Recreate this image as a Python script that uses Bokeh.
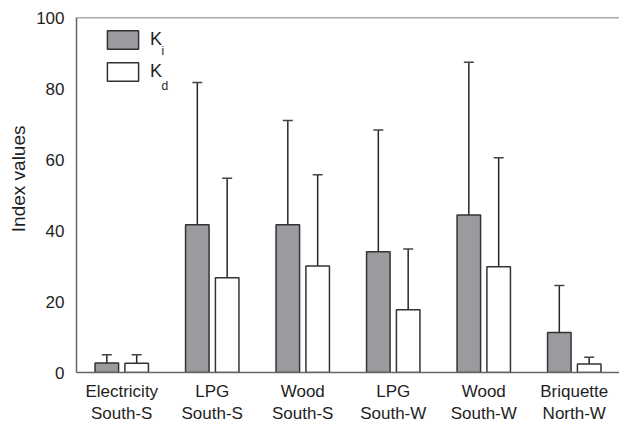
from bokeh.plotting import figure
from bokeh.models import (ColumnDataSource, Whisker, TeeHead, Legend, LegendItem,
                          Label, Span, FixedTicker, Title)
from bokeh.transform import dodge
from bokeh.embed import file_html
from bokeh.resources import INLINE

categories = ["Electricity\nSouth-S", "LPG\nSouth-S", "Wood\nSouth-S",
              "LPG\nSouth-W", "Wood\nSouth-W", "Briquette\nNorth-W"]
ki = [2.7, 41.6, 41.6, 34.0, 44.4, 11.3]
ki_upper = [5.0, 81.7, 71.0, 68.3, 87.4, 24.5]
kd = [2.6, 26.7, 30.0, 17.7, 29.8, 2.4]
kd_upper = [5.0, 54.7, 55.7, 34.8, 60.5, 4.3]
y_ticks = [0, 20, 40, 60, 80, 100]

FONT = "Liberation Sans"
TXT = "#1e1e1e"

src = ColumnDataSource(dict(cat=categories, ki=ki, ki_upper=ki_upper,
                            kd=kd, kd_upper=kd_upper))

p = figure(x_range=categories, y_range=(0, 100), width=619, height=426,
           output_backend="svg", toolbar_location=None,
           min_border_left=76, min_border_right=0, min_border_top=17,
           min_border_bottom=53)
p.x_range.range_padding = 0
p.grid.visible = False
p.outline_line_color = None
p.background_fill_color = "white"

bw = 0.26
off = 0.165
r_ki = p.vbar(x=dodge("cat", -off, range=p.x_range), top="ki", width=bw, source=src,
              fill_color="#9b9b9f", line_color="#333333", line_width=1.5)
r_kd = p.vbar(x=dodge("cat", off, range=p.x_range), top="kd", width=bw, source=src,
              fill_color="white", line_color="#333333", line_width=1.5)

for col, up, o in (("ki", "ki_upper", -off), ("kd", "kd_upper", off)):
    w = Whisker(base=dodge("cat", o, range=p.x_range), lower=col, upper=up, source=src,
                line_color="#262626", line_width=1.5,
                upper_head=TeeHead(size=10, line_color="#444444", line_width=1.5),
                lower_head=None)
    p.add_layout(w)

p.add_layout(Span(location=100, dimension="width", line_color="#555555", line_width=1.5))

# axes
p.yaxis.ticker = FixedTicker(ticks=y_ticks)
for ax in (p.xaxis, p.yaxis):
    ax.major_tick_line_color = None
    ax.minor_tick_line_color = None
    ax.major_tick_out = 0
    ax.major_tick_in = 0
    ax.axis_line_color = "#666666"
    ax.axis_line_width = 1.5
    ax.major_label_text_font = FONT
    ax.major_label_text_color = TXT
p.yaxis.major_label_text_font_size = "17px"
p.yaxis.major_label_standoff = 12
p.xaxis.major_label_text_font_size = "17px"
p.xaxis.major_label_standoff = 9

# y axis title (slightly above the frame centre, as in the original)
ytitle = Title(text="Index values", align="right", offset=108, standoff=10,
               text_font=FONT, text_font_size="19px", text_font_style="normal",
               text_color=TXT)
p.add_layout(ytitle, "left")

legend = Legend(items=[LegendItem(label="K", renderers=[r_ki]),
                       LegendItem(label="K", renderers=[r_kd])],
                location=(27, 289), padding=0, margin=0, spacing=9,
                glyph_width=39, glyph_height=23, label_height=23,
                label_standoff=8, border_line_color=None,
                background_fill_alpha=0,
                label_text_font=FONT, label_text_font_size="18px",
                label_text_color=TXT)
p.add_layout(legend)

p.add_layout(Label(x=85, y=322, text="i", x_units="screen", y_units="screen",
                   text_font=FONT, text_font_size="12px", text_color=TXT,
                   text_baseline="alphabetic"))
p.add_layout(Label(x=85, y=287, text="d", x_units="screen", y_units="screen",
                   text_font=FONT, text_font_size="12px", text_color=TXT,
                   text_baseline="alphabetic"))

open("out.html", "w").write(file_html(p, INLINE))
